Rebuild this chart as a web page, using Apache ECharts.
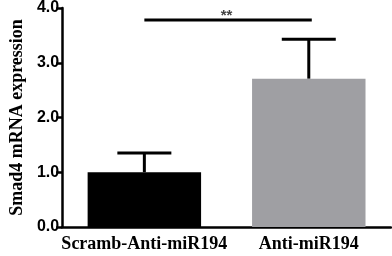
<!DOCTYPE html>
<html>
<head>
<meta charset="utf-8">
<script src="https://cdn.jsdelivr.net/npm/echarts@6/dist/echarts.min.js"></script>
<style>
  html, body { margin: 0; padding: 0; background: #fff; }
  #chart { width: 392px; height: 256px; }
</style>
</head>
<body>
<div id="chart"></div>
<script>
// values
var categories = ['Scramb-Anti-miR194', 'Anti-miR194'];
var means = [1.0, 2.71];
var errUpper = [1.35, 3.43];
var barColors = ['#000000', '#9f9fa3'];
var sigLevel = 3.78;
var sigText = '**';

var chart = echarts.init(document.getElementById('chart'));

chart.setOption({
    animation: false,
    grid: { left: 61, right: 1, top: 7, bottom: 29 },
    xAxis: {
        type: 'category',
        data: categories,
        axisLine: { lineStyle: { color: '#000', width: 2.5 } },
        axisTick: { alignWithLabel: true, length: 6, lineStyle: { color: '#000', width: 2.5 } },
        axisLabel: {
            interval: 0,
            color: '#000', fontFamily: 'Liberation Serif', fontWeight: 'bold', fontSize: 18, margin: 8
        }
    },
    yAxis: {
        type: 'value',
        min: 0, max: 4, interval: 1,
        name: 'Smad4 mRNA expression',
        nameLocation: 'middle',
        nameGap: 36,
        nameTextStyle: { color: '#000', fontFamily: 'Liberation Serif', fontWeight: 'bold', fontSize: 18 },
        splitLine: { show: false },
        axisLine: { show: true, lineStyle: { color: '#000', width: 2.5 } },
        axisTick: { show: true, length: 6, lineStyle: { color: '#000', width: 2.5 } },
        axisLabel: {
            color: '#000', fontFamily: 'Liberation Sans', fontWeight: 'bold', fontSize: 16, margin: 3,
            formatter: function (v) { return v.toFixed(1); }
        }
    },
    series: [
        {
            type: 'bar',
            barWidth: '69%',
            z: 2,
            data: means.map(function (v, i) {
                return { value: v, itemStyle: { color: barColors[i] } };
            })
        },
        {
            // error bars (upper only)
            type: 'custom',
            z: 3,
            data: categories.map(function (c, i) { return [i, means[i], errUpper[i]]; }),
            renderItem: function (params, api) {
                var base = api.coord([api.value(0), api.value(1)]);
                var top = api.coord([api.value(0), api.value(2)]);
                var half = 27;
                var style = { stroke: '#000', lineWidth: 3 };
                return {
                    type: 'group',
                    children: [
                        { type: 'line', shape: { x1: base[0], y1: base[1], x2: top[0], y2: top[1] }, style: style },
                        { type: 'line', shape: { x1: top[0] - half, y1: top[1], x2: top[0] + half, y2: top[1] }, style: style }
                    ]
                };
            }
        },
        {
            // significance bracket
            type: 'custom',
            z: 3,
            data: [[0, 1, sigLevel]],
            renderItem: function (params, api) {
                var a = api.coord([api.value(0), api.value(2)]);
                var b = api.coord([api.value(1), api.value(2)]);
                return {
                    type: 'group',
                    children: [
                        { type: 'line', shape: { x1: a[0], y1: a[1], x2: b[0] + 3, y2: b[1] }, style: { stroke: '#000', lineWidth: 3 } },
                        {
                            type: 'text',
                            style: {
                                text: sigText, x: (a[0] + b[0]) / 2, y: a[1] + 3,
                                align: 'center', verticalAlign: 'bottom',
                                fill: '#444', font: 'bold 15px Liberation Sans'
                            }
                        }
                    ]
                };
            }
        }
    ]
});
</script>
</body>
</html>
